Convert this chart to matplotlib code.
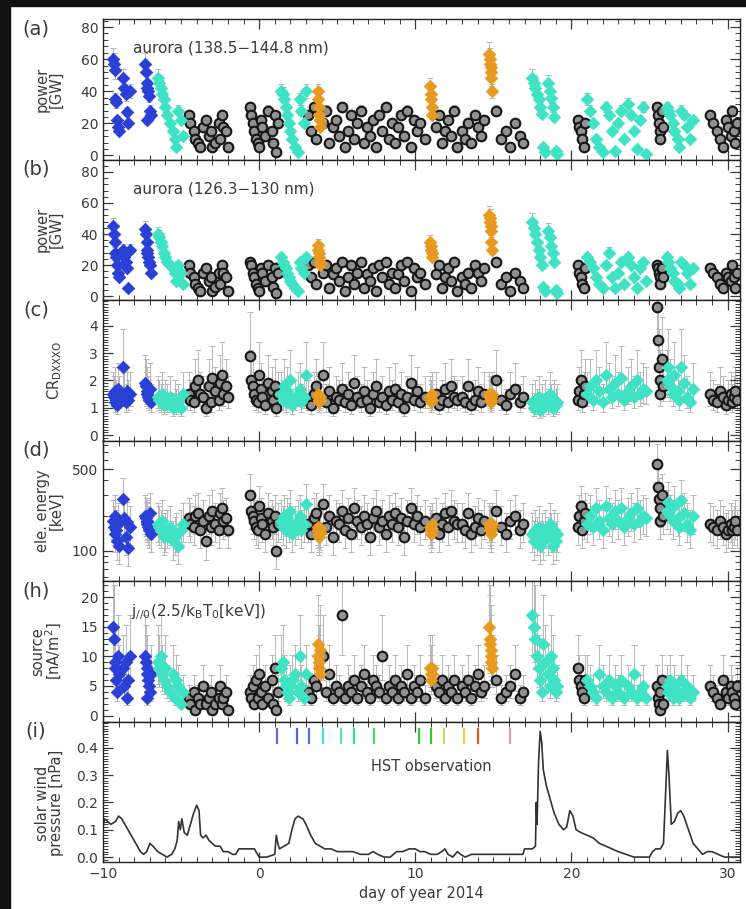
import numpy as np
import matplotlib
matplotlib.use("Agg")
import matplotlib.pyplot as plt
from matplotlib.ticker import MultipleLocator, AutoMinorLocator, FixedLocator, NullFormatter, LogLocator
from matplotlib.patches import Rectangle

INK = "#3a3a3a"
plt.rcParams.update({
    "font.family": ["DejaVu Sans"],
    "font.size": 10.5,
    "text.color": INK, "axes.labelcolor": INK,
    "xtick.color": INK, "ytick.color": INK,
    "xtick.direction": "in", "ytick.direction": "in",
    "xtick.top": True, "ytick.right": True,
    "axes.edgecolor": "#222222", "axes.linewidth": 1.0,
})

COLORS = {"b": "#2a3fd6", "t": "#3fe3c3", "o": "#e89a20", "k": "#161616"}

# ───── HST visit points: time, group, power(a), power(b), CR, energy, source current ─────
day = [
    -9.35, -9.3, -9.25, -9.2, -9.15, -9.1, -9.05, -9.0, -8.75, -8.65, -8.55, -8.45, -8.4, -8.3,
    -7.3, -7.25, -7.2, -7.15, -7.1, -7.05, -7.0, -6.95, -7.2,
    -6.5, -6.4, -6.3, -6.2, -6.1, -6.0, -5.9, -5.7, -5.5, -5.4, -5.3, -5.2, -5.0, -4.9,
    -4.5, -4.4, -4.2, -4.1, -3.9, -3.8, -3.6, -3.4, -3.2, -3.1, -3.0, -2.8, -2.6, -2.5, -2.4, -2.3, -2.1, -2.0,
    -0.6, -0.5, -0.4, -0.3, -0.2, -0.1, 0.0, 0.1, 0.2, 0.4, 0.6, 0.8, 0.9, 1.0, 1.1, 1.2,
    1.4, 1.5, 1.6, 1.7, 1.8, 1.9, 2.0, 2.1, 2.3, 2.5, 2.6, 2.7, 2.9, 3.0,
    3.75, 3.8, 3.82, 3.85, 3.88, 3.9,
    3.1, 3.3, 3.5, 3.65, 4.1, 4.3, 4.5, 4.7, 4.9, 5.1, 5.3, 5.5, 5.7, 5.9, 6.1, 6.3, 6.5, 6.7, 6.9, 7.1,
    7.3, 7.5, 7.7, 7.9, 8.1, 8.3, 8.5, 8.7, 8.9, 9.1, 9.3, 9.5, 9.7, 9.9, 10.1, 10.3, 10.6, 11.3, 11.5, 11.7,
    11.9, 12.1, 12.3, 12.5, 12.7,
    10.95, 11.0, 11.02, 11.05, 11.1,
    13.0, 13.2, 13.4, 13.6, 13.8, 14.0, 14.2, 14.4, 15.2, 15.5, 15.8, 16.1, 16.4, 16.7, 16.9,
    14.75, 14.78, 14.8, 14.82, 14.85, 14.87, 14.9,
    17.5, 17.6, 17.7, 17.8, 17.9, 18.0, 18.1, 18.2, 18.3, 18.5, 18.6, 18.7, 18.8, 18.9, 19.0, 19.1,
    20.4, 20.5, 20.6, 20.7, 20.8, 20.9,
    21.0, 21.2, 21.4, 21.6, 21.8, 22.0, 22.2, 22.4, 22.6, 22.8, 23.0, 23.2, 23.4, 23.6, 23.8, 24.0, 24.2, 24.4, 24.6, 24.8,
    25.5, 25.55, 25.6, 25.65, 25.7, 25.8, 25.9,
    26.1, 26.2, 26.3, 26.5, 26.6, 26.8, 26.9, 27.0, 27.2, 27.4, 27.6, 27.8,
    28.9, 29.1, 29.3, 29.5, 29.7, 29.9, 30.0, 30.2, 30.3, 30.4, 30.5, 30.6,
]
group = ("b" * 14 + "b" * 9 + "t" * 14 + "k" * 18 + "k" * 16 + "t" * 14 + "o" * 6 + "k" * 45
         + "o" * 5 + "k" * 15 + "o" * 7 + "t" * 16 + "k" * 6 + "t" * 20 + "k" * 7 + "t" * 12 + "k" * 12)
power_a = [
    60, 57, 53, 35, 33, 22, 18, 15, 48, 42, 38, 27, 20, 40,
    57, 52, 45, 42, 40, 37, 28, 25, 22,
    48, 45, 42, 38, 35, 30, 25, 20, 15, 10, 5, 28, 22, 12,
    25, 20, 15, 10, 8, 5, 18, 22, 12, 15, 5, 8, 20, 10, 25, 18, 15, 5,
    30, 25, 20, 15, 10, 8, 5, 22, 18, 12, 28, 15, 8, 25, 2, 20,
    40, 38, 35, 30, 25, 20, 15, 10, 5, 2, 35, 28, 20, 40,
    40, 35, 30, 25, 22, 18,
    25, 15, 30, 10, 20, 28, 8, 18, 22, 12, 30, 5, 15, 25, 10, 20, 28, 8, 18, 12,
    22, 5, 25, 15, 30, 10, 20, 8, 18, 25, 12, 28, 5, 22, 15, 20, 10, 18, 25, 8,
    15, 22, 12, 28, 5,
    43, 38, 35, 30, 25,
    15, 10, 20, 8, 25, 18, 12, 22, 28, 10, 15, 5, 20, 12, 8,
    63, 60, 57, 55, 52, 48, 40,
    48, 45, 42, 38, 35, 30, 26, 5, 2, 45, 40, 36, 30, 24, 3, 1,
    22, 18, 15, 10, 5, 20,
    35, 28, 20, 10, 5, 2, 30, 25, 15, 3, 20, 28, 10, 32, 25, 15, 4, 22, 30, 1,
    30, 25, 20, 15, 10, 28, 18,
    30, 28, 25, 20, 15, 10, 5, 28, 25, 18, 10, 22,
    25, 20, 15, 10, 5, 22, 18, 12, 28, 15, 8, 20,
]
power_b = [
    45, 40, 35, 28, 25, 20, 15, 12, 30, 25, 22, 18, 5, 30,
    43, 40, 35, 30, 25, 22, 20, 15, 28,
    40, 38, 35, 32, 28, 25, 22, 20, 18, 15, 10, 20, 15, 8,
    20, 15, 12, 8, 5, 3, 15, 18, 10, 12, 3, 6, 15, 8, 20, 15, 12, 3,
    22, 20, 15, 12, 8, 5, 3, 18, 15, 10, 20, 12, 6, 18, 2, 15,
    25, 22, 20, 18, 15, 12, 10, 8, 5, 3, 22, 18, 15, 25,
    33, 30, 28, 25, 22, 20,
    20, 12, 22, 8, 15, 20, 5, 14, 18, 10, 22, 3, 12, 20, 8, 15, 22, 5, 14, 10,
    18, 3, 20, 12, 22, 8, 15, 5, 14, 20, 10, 22, 3, 18, 12, 15, 8, 14, 20, 5,
    12, 18, 10, 22, 3,
    35, 32, 30, 28, 25,
    12, 8, 15, 5, 20, 15, 10, 18, 22, 8, 12, 3, 15, 10, 5,
    52, 50, 48, 45, 42, 35, 30,
    48, 44, 40, 35, 30, 25, 20, 6, 3, 42, 38, 32, 28, 22, 4, 2,
    20, 15, 12, 8, 5, 18,
    25, 22, 18, 12, 8, 5, 20, 28, 12, 5, 15, 22, 8, 25, 20, 12, 5, 18, 22, 10,
    20, 18, 15, 12, 8, 18, 12,
    25, 22, 18, 15, 10, 8, 5, 22, 20, 15, 8, 18,
    18, 15, 12, 8, 5, 15, 12, 10, 20, 12, 5, 15,
]
cr = [
    1.5, 1.4, 1.2, 1.6, 1.3, 1.1, 1.7, 1.4, 2.5, 1.5, 1.2, 1.6, 1.3, 1.5,
    1.9, 1.8, 1.6, 1.5, 1.4, 1.3, 1.7, 1.2, 1.5,
    1.4, 1.3, 1.2, 1.5, 1.1, 1.3, 1.2, 1.4, 1.0, 1.3, 1.1, 1.2, 1.0, 1.5,
    1.5, 1.3, 1.2, 1.8, 2.0, 1.5, 1.4, 1.0, 1.8, 1.2, 2.1, 1.6, 1.3, 1.9, 2.2, 1.5, 1.8, 1.4,
    2.9, 2.0, 1.8, 1.5, 1.3, 1.2, 2.2, 1.7, 1.4, 1.1, 1.9, 1.6, 1.3, 1.8, 1.0, 1.5,
    1.5, 1.3, 1.8, 1.2, 1.6, 1.4, 2.0, 1.1, 1.3, 1.5, 1.7, 1.2, 1.4, 2.2,
    1.5, 1.4, 1.3, 1.2, 1.3, 1.4,
    1.3, 1.1, 1.5, 1.8, 2.2, 1.2, 1.6, 1.0, 1.4, 1.3, 1.7, 1.2, 1.5, 1.1, 1.9, 1.4, 1.2, 1.6, 1.3, 1.0,
    1.5, 1.8, 1.2, 1.4, 1.1, 1.6, 1.3, 1.7, 1.2, 1.5, 1.0, 1.4, 1.9, 1.3, 1.6, 1.2, 1.4, 1.5, 1.1, 1.3,
    1.7, 1.2, 1.8, 1.4, 1.3,
    1.4, 1.3, 1.2, 1.3, 1.5,
    1.4, 1.2, 1.8, 1.1, 1.3, 1.6, 1.2, 1.5, 2.0, 1.3, 1.1, 1.5, 1.7, 1.2, 1.4,
    1.5, 1.4, 1.3, 1.4, 1.2, 1.3, 1.5,
    1.2, 1.0, 1.3, 1.1, 1.4, 0.9, 1.2, 1.0, 1.3, 1.1, 1.5, 1.2, 1.0, 1.3, 1.1, 1.2,
    1.3, 1.6, 2.0, 1.2, 1.5, 1.8,
    1.5, 1.8, 1.3, 2.0, 1.6, 1.2, 2.2, 1.7, 1.4, 1.9, 1.5, 2.1, 1.3, 1.6, 1.8, 1.4, 2.0, 1.5, 1.7, 1.6,
    4.7, 3.5, 2.5, 2.0, 1.5, 2.8, 1.8,
    2.0, 2.5, 1.8, 1.5, 2.2, 1.6, 1.3, 2.5, 1.9, 1.4, 1.2, 1.7,
    1.5, 1.3, 1.2, 1.6, 1.4, 1.1, 1.3, 1.5, 1.2, 1.4, 1.6, 1.3,
]
energy = [
    180, 160, 140, 200, 150, 120, 170, 110, 280, 190, 130, 175, 105, 160,
    200, 190, 180, 170, 160, 150, 210, 140, 175,
    170, 160, 150, 180, 130, 140, 150, 160, 120, 130, 140, 110, 150, 170,
    190, 170, 160, 200, 210, 150, 180, 120, 200, 160, 220, 170, 150, 210, 230, 180, 190, 150,
    300, 220, 200, 180, 160, 150, 240, 190, 170, 140, 210, 180, 160, 200, 100, 170,
    180, 160, 200, 150, 190, 170, 220, 140, 160, 180, 200, 150, 170, 250,
    160, 150, 140, 130, 145, 155,
    170, 140, 190, 210, 250, 160, 200, 130, 180, 170, 220, 150, 190, 140, 230, 180, 160, 200, 170, 130,
    190, 220, 160, 180, 140, 200, 170, 210, 160, 190, 130, 180, 230, 170, 200, 160, 180, 190, 140, 170,
    210, 160, 220, 180, 170,
    160, 150, 140, 150, 170,
    170, 150, 210, 140, 160, 190, 150, 180, 220, 160, 140, 180, 200, 150, 170,
    170, 160, 150, 160, 140, 150, 170,
    140, 120, 150, 130, 160, 110, 140, 120, 150, 130, 170, 140, 110, 150, 120, 140,
    160, 200, 240, 150, 180, 210,
    170, 200, 160, 230, 180, 150, 240, 190, 170, 220, 180, 230, 160, 190, 210, 170, 230, 180, 200, 190,
    550, 350, 280, 230, 180, 300, 200,
    220, 260, 200, 180, 240, 190, 160, 270, 210, 170, 150, 200,
    170, 160, 150, 180, 160, 140, 150, 170, 150, 160, 180, 150,
]
j_src = [
    15, 13, 9, 8, 6, 4, 10, 7, 8, 5, 9, 3, 6, 10,
    10, 9, 8, 7, 6, 5, 4, 7, 3,
    9, 8, 10, 7, 6, 8, 5, 4, 7, 3, 6, 5, 2, 4,
    3, 2, 4, 1, 3, 2, 5, 2, 3, 4, 1, 2, 3, 5, 2, 3, 4, 1,
    4, 3, 5, 2, 6, 3, 7, 4, 2, 5, 3, 6, 2, 8, 1, 4,
    8, 9, 6, 5, 4, 3, 5, 6, 7, 4, 10, 5, 3, 7,
    12, 10, 9, 8, 7, 11,
    4, 3, 6, 5, 10, 4, 7, 3, 5, 4, 17, 3, 5, 4, 6, 3, 5, 7, 4, 3,
    6, 5, 4, 10, 3, 5, 4, 6, 3, 5, 4, 7, 3, 5, 4, 6, 3, 5, 4, 6,
    3, 5, 4, 6, 3,
    8, 7, 6, 7, 8,
    5, 4, 6, 3, 5, 7, 4, 5, 6, 3, 4, 5, 7, 3, 4,
    15, 13, 12, 11, 10, 9, 8,
    17, 15, 13, 10, 8, 6, 4, 12, 9, 7, 5, 10, 8, 6, 4, 5,
    8, 6, 5, 4, 3, 6,
    6, 5, 4, 3, 7, 5, 4, 6, 3, 5, 4, 6, 3, 5, 4, 7, 3, 4, 5, 3,
    5, 3, 2, 1, 4, 6, 2,
    5, 4, 6, 3, 5, 4, 3, 6, 4, 5, 3, 4,
    5, 4, 3, 2, 6, 4, 3, 5, 4, 3, 2, 5,
]

# relative error sizes (lower, upper) per panel
ERR = {"a": (0.10, 0.12), "b": (0.10, 0.12), "c": (0.30, 0.55), "d": (0.30, 0.50), "h": (0.40, 0.70)}

# ───── solar wind dynamic pressure ─────
sw_day = [-10.0, -9.9, -9.7, -9.5, -9.2, -9.0, -8.8, -8.5, -8.2, -7.9, -7.6, -7.4, -7.2, -7.0, -6.8,
          -6.5, -6.2, -5.9, -5.6, -5.4, -5.25, -5.15, -5.05, -4.95, -4.8, -4.6, -4.4, -4.2, -4.0,
          -3.85, -3.75, -3.6, -3.4, -3.2, -3.0, -2.8, -2.5, -2.3, -2.0, -1.7, -1.5, -1.3, -1.0,
          -0.6, -0.3, -0.1, 0.0, 0.5, 1.0, 1.1, 1.2, 1.3, 1.6, 1.9, 2.1, 2.3, 2.5, 2.8, 3.0, 3.3,
          3.6, 3.9, 4.2, 4.6, 5.0, 5.5, 6.0, 6.5, 7.0, 7.3, 7.6, 8.0, 8.4, 8.8, 9.2, 9.6, 10.0,
          10.3, 10.6, 11.0, 11.4, 11.7, 11.9, 12.1, 12.4, 12.7, 12.9, 13.2, 13.6, 14.5, 15.5, 16.5,
          16.9, 17.0, 17.5, 17.7, 17.75, 17.8, 17.9, 18.0, 18.1, 18.2, 18.4, 18.6, 18.9, 19.2,
          19.5, 19.7, 19.9, 20.1, 20.3, 20.6, 21.0, 21.4, 21.8, 22.2, 22.6, 23.0, 23.5, 24.0,
          24.5, 25.0, 25.2, 25.4, 25.7, 25.9, 26.05, 26.15, 26.25, 26.4, 26.6, 26.8, 27.0, 27.2,
          27.5, 27.8, 28.1, 28.4, 28.7, 29.0, 29.4, 29.8, 30.8]
sw_p = [0.11, 0.14, 0.13, 0.12, 0.13, 0.15, 0.14, 0.11, 0.08, 0.05, 0.02, 0.01, 0.02, 0.05, 0.04,
        0.02, 0.01, 0.0, 0.01, 0.03, 0.06, 0.13, 0.10, 0.14, 0.09, 0.08, 0.12, 0.16, 0.19,
        0.17, 0.08, 0.07, 0.08, 0.06, 0.05, 0.04, 0.04, 0.02, 0.02, 0.01, 0.01, 0.03, 0.03,
        0.03, 0.03, 0.01, 0.0, 0.0, 0.01, 0.08, 0.05, 0.03, 0.04, 0.05, 0.10, 0.14, 0.15, 0.14, 0.12, 0.08,
        0.05, 0.04, 0.03, 0.03, 0.02, 0.02, 0.02, 0.01, 0.01, 0.02, 0.01, 0.0, 0.0, 0.02, 0.02, 0.03, 0.03,
        0.02, 0.02, 0.01, 0.01, 0.02, 0.03, 0.01, 0.0, 0.02, 0.01, 0.0, 0.01, 0.01, 0.01, 0.01,
        0.01, 0.03, 0.03, 0.04, 0.20, 0.12, 0.35, 0.46, 0.42, 0.32, 0.26, 0.22, 0.16, 0.12,
        0.10, 0.11, 0.17, 0.15, 0.10, 0.09, 0.08, 0.07, 0.05, 0.04, 0.03, 0.02, 0.01, 0.0,
        0.0, 0.0, 0.02, 0.03, 0.03, 0.05, 0.25, 0.39, 0.30, 0.12, 0.13, 0.16, 0.17, 0.15,
        0.10, 0.05, 0.03, 0.01, 0.02, 0.02, 0.01, 0.0, 0.0]

# ───── HST observation marks ─────
hst_day = [1.15, 2.43, 3.19, 4.09, 5.24, 6.07, 7.35, 10.22, 10.99, 11.82, 13.10, 13.99, 16.04]
hst_col = ["#6a6ad8", "#4a66e0", "#4a78e0", "#4fd8d8", "#5de0c8", "#45d49a", "#62d062",
           "#3cc43c", "#3cbf3c", "#c0e060", "#f0d040", "#e06020", "#e498b8"]

day = np.array(day)
grp = np.array(list(group))
panels = [("a", np.array(power_a)), ("b", np.array(power_b)), ("c", np.array(cr)),
          ("d", np.array(energy)), ("h", np.array(j_src))]

fig, axes = plt.subplots(6, 1, figsize=(7.46, 9.09), dpi=100, sharex=True,
                         gridspec_kw=dict(hspace=0))
fig.subplots_adjust(left=103 / 746, right=740 / 746, top=1 - 19 / 909, bottom=1 - 862 / 909)

for ax, (key, vals) in zip(axes[:5], panels):
    lo, hi = ERR[key]
    yerr = np.vstack([vals * lo, vals * hi])
    ax.errorbar(day, vals, yerr=yerr, fmt="none", ecolor="#b8b8b8", elinewidth=0.7,
                capsize=2, capthick=0.7, zorder=1)
    for g in ["k", "b", "t", "o"]:
        m = grp == g
        if g == "k":
            ax.scatter(day[m], vals[m], s=48, marker="o", facecolors="#909090",
                       edgecolors=COLORS[g], linewidths=1.5, zorder=2)
        else:
            ax.scatter(day[m], vals[m], s=40, marker="D", color=COLORS[g],
                       edgecolors=COLORS[g], linewidths=0.6, zorder=3)

ax_i = axes[5]
ax_i.plot(sw_day, sw_p, color="#333333", lw=1.2)
for d, c in zip(hst_day, hst_col):
    ax_i.axvline(d, ymin=0.85, ymax=0.95, color=c, lw=1.6)
ax_i.text(11.0, 0.33, "HST observation", ha="center", va="center", fontsize=10.5)

# ───── axes, ticks, labels ─────
axes[0].set_ylim(-2.5, 85)
axes[1].set_ylim(-2.5, 88)
axes[2].set_ylim(-0.2, 4.95)
axes[3].set_yscale("log")
axes[3].set_ylim(55, 880)
axes[4].set_ylim(-1, 22.7)
ax_i.set_ylim(-0.018, 0.496)

for ax in axes[:2]:
    ax.yaxis.set_major_locator(MultipleLocator(20))
    ax.yaxis.set_minor_locator(AutoMinorLocator(5))
axes[2].yaxis.set_major_locator(MultipleLocator(1))
axes[2].yaxis.set_minor_locator(AutoMinorLocator(10))
axes[3].yaxis.set_major_locator(FixedLocator([100, 500]))
axes[3].yaxis.set_major_formatter(plt.FuncFormatter(lambda v, p: f"{v:.0f}"))
axes[3].yaxis.set_minor_locator(LogLocator(base=10, subs=np.arange(2, 10) * 0.1))
axes[3].yaxis.set_minor_formatter(NullFormatter())
axes[4].yaxis.set_major_locator(MultipleLocator(5))
axes[4].yaxis.set_minor_locator(AutoMinorLocator(5))
ax_i.yaxis.set_major_locator(MultipleLocator(0.1))
ax_i.yaxis.set_minor_locator(AutoMinorLocator(10))
ax_i.yaxis.set_major_formatter(plt.FuncFormatter(lambda v, p: f"{v:.1f}"))

ax_i.set_xlim(-10, 30.8)
ax_i.xaxis.set_major_locator(MultipleLocator(10))
ax_i.xaxis.set_minor_locator(MultipleLocator(1))
ax_i.set_xlabel("day of year 2014", fontsize=10.5, labelpad=4)

ylabels = ["power\n[GW]", "power\n[GW]", "CR$_{\\rm DXXXO}$", "ele. energy\n[keV]",
           "source\n[nA/m$^2$]", "solar wind\npressure [nPa]"]
letters = ["(a)", "(b)", "(c)", "(d)", "(h)", "(i)"]
for ax, yl, lt in zip(axes, ylabels, letters):
    ax.tick_params(which="major", length=7, width=0.9, labelsize=10)
    ax.tick_params(which="minor", length=3.5, width=0.7)
    ax.set_ylabel(yl, fontsize=10.5, linespacing=0.9)
    ax.yaxis.set_label_coords(-0.062, 0.5)
    ax.text(-0.105, 0.93, lt, transform=ax.transAxes, ha="center", va="center", fontsize=14)
ax_i.yaxis.set_label_coords(-0.062, 0.42)

axes[0].text(-8.05, 67, "aurora (138.5\u2212144.8 nm)", fontsize=11, va="center")
axes[1].text(-8.05, 69, "aurora (126.3\u2212130 nm)", fontsize=11, va="center")
axes[4].text(-8.2, 17.5, "j$_{//0}$(2.5/k$_{\\rm B}$T$_0$[keV])", fontsize=11, va="center")

# dark screenshot frame on left and top
fig.add_artist(Rectangle((0, 0), 10 / 746, 1, transform=fig.transFigure, color="#111111", zorder=10))
fig.add_artist(Rectangle((0, 1 - 6 / 909), 1, 6 / 909, transform=fig.transFigure, color="#111111", zorder=10))

fig.savefig("out.png", dpi=100)
